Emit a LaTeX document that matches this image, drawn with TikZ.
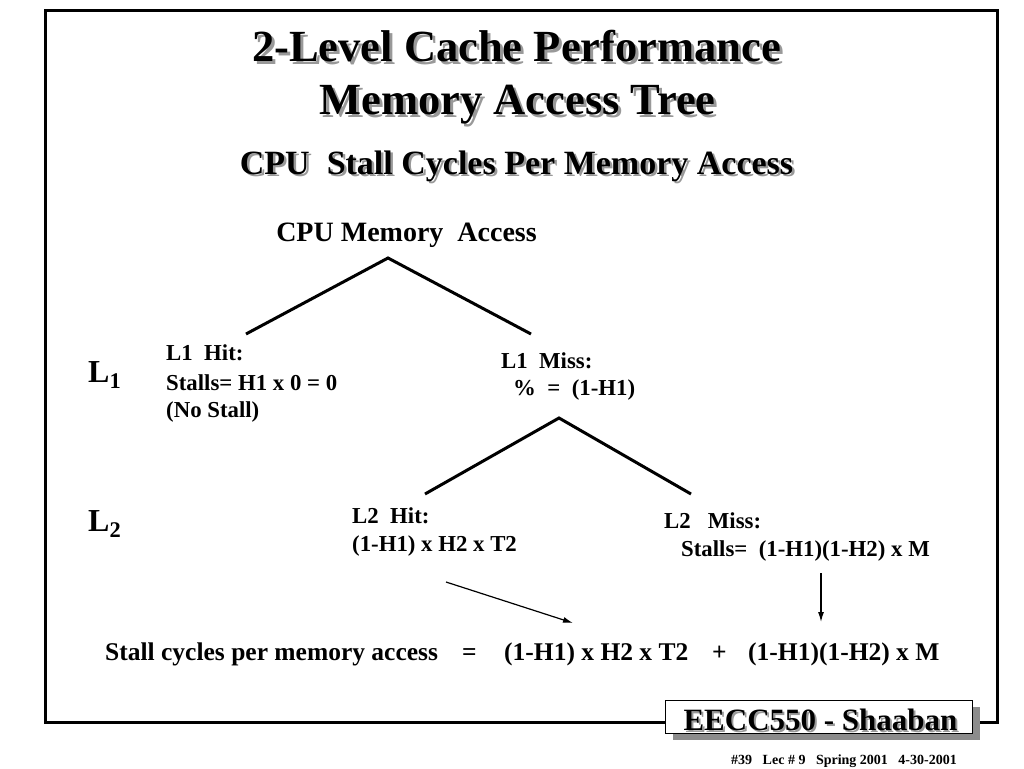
\documentclass[tikz,border=0pt]{standalone}
\usepackage{fontspec}
\setmainfont{Liberation Serif}
\usetikzlibrary{arrows.meta}
\newcommand\ShadowText[6]{% name, x, y, font, text, offset
  \node[anchor=base,inner sep=0pt,font={#4},text=black!40] at (#2+#6,#3+#6) {#5};
  \node[anchor=base,inner sep=0pt,font={#4}] (#1) at (#2,#3) {#5};}
\begin{document}
\begin{tikzpicture}[x=1pt,y=-1pt,
  body/.style={anchor=base west,inner sep=0pt,font=\fontsize{22.8}{27}\selectfont\bfseries},
  eqtext/.style={anchor=base west,inner sep=0pt,font=\fontsize{25.5}{30}\selectfont\bfseries},
  lvl/.style={anchor=base west,inner sep=0pt,font=\fontsize{32}{36}\selectfont\bfseries},
  treeline/.style={line width=3pt},
  arr/.style={-{Latex[length=10pt,width=6pt]},line width=1.2pt},
  frame/.style={line width=3pt,draw=black}]
\useasboundingbox (0,0) rectangle (1024,768);
\fill[white] (0,0) rectangle (1024,768);
% outer frame
\draw[frame] (45,11) rectangle (997,722);
% titles
\ShadowText{t1}{516.5}{61}{\fontsize{44.5}{50}\selectfont\bfseries}{2-Level Cache Performance}{3}
\ShadowText{t2}{517.5}{114}{\fontsize{44.5}{50}\selectfont\bfseries}{Memory Access Tree}{3}
\ShadowText{t3}{516.5}{174}{\fontsize{34}{40}\selectfont\bfseries}{CPU\ \ Stall Cycles Per Memory Access}{2.5}
% root
\node[anchor=base,inner sep=0pt,font=\fontsize{28}{32}\selectfont\bfseries] (root) at (406.5,241) {CPU Memory\ \ Access};
\coordinate (apexA) at (388,258);
\coordinate (endAL) at (246,334);
\coordinate (endAR) at (531,334);
\draw[treeline] (endAL) -- (apexA) -- (endAR);
% level labels
\node[lvl] (lvlone) at (88,382) {L\textsubscript{1}};
\node[lvl] (lvltwo) at (88,531) {L\textsubscript{2}};
% L1 hit
\node[body] (hitA) at (166,360) {L1\ \ Hit:};
\node[body] (hitB) at (166,390) {Stalls= H1 x 0 = 0};
\node[body] (hitC) at (166,417) {(No Stall)};
% L1 miss
\node[body] (missA) at (501,368) {L1\ \ Miss:};
\node[body] (missB) at (513,395) {\%\ \ =\ \ (1-H1)};
\coordinate (apexB) at (559,418);
\coordinate (endBL) at (425,494);
\coordinate (endBR) at (691,494);
\draw[treeline] (endBL) -- (apexB) -- (endBR);
% L2 hit
\node[body] (hittwoA) at (352,523) {L2\ \ Hit:};
\node[body] (hittwoB) at (352,551) {(1-H1) x H2 x T2};
% L2 miss
\node[body] (misstwoA) at (664,528) {L2\ \ \ Miss:};
\node[body] (misstwoB) at (681,556) {Stalls=\ \ (1-H1)(1-H2) x M};
% equation
\node[eqtext] (eqA) at (105,660) {Stall cycles per memory access};
\node[eqtext] (eqEq) at (462,660) {=};
\node[eqtext] (eqB) at (504,660) {(1-H1) x H2 x T2};
\node[eqtext] (eqPlus) at (712,660) {+};
\node[eqtext] (eqC) at (748,660) {(1-H1)(1-H2) x M};
% arrows
\coordinate (arrAs) at (446,582);
\coordinate (arrAe) at (573,623);
\draw[arr] (arrAs) -- (arrAe);
\coordinate (arrBs) at (821,573);
\coordinate (arrBe) at (821,622);
\draw[arr] (arrBs) -- (arrBe);
% footer box
\fill[black!45] (673,707) rectangle (980,740);
\draw[line width=1pt,fill=white] (665,700) rectangle (972,733);
\ShadowText{foot}{820.5}{730}{\fontsize{31}{36}\selectfont\bfseries}{EECC550 - Shaaban}{2}
\node[anchor=base,inner sep=0pt,font=\fontsize{14}{16}\selectfont\bfseries] (footsmall) at (844,764) {\#39\ \ \ Lec \# 9\ \ \ Spring 2001\ \ \ 4-30-2001};
\end{tikzpicture}
\end{document}
